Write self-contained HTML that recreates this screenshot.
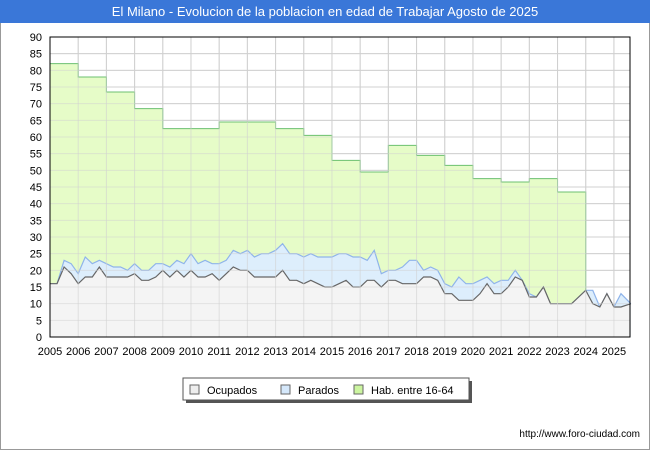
<!DOCTYPE html>
<html><head><meta charset="utf-8"><style>
body{margin:0;width:650px;height:450px;background:#fff;font-family:"Liberation Sans",sans-serif;overflow:hidden}
svg text{font-family:"Liberation Sans",sans-serif}
</style></head><body>
<svg id="c" width="650" height="450">
<rect x="0.5" y="0.5" width="649" height="449" fill="#fff" stroke="#999"/>
<rect x="0" y="0" width="650" height="23" fill="#3a77d8"/>
<text x="325" y="16" text-anchor="middle" fill="#fff" font-size="13">El Milano - Evolucion de la poblacion en edad de Trabajar Agosto de 2025</text>
<g id="grid"></g><g id="series"></g><g id="axes"></g>
<g>
<rect x="186" y="381" width="286" height="22" fill="#555"/>
<rect x="183" y="378" width="286" height="22" fill="#fff" stroke="#555"/>
<rect x="190" y="385" width="9" height="9" fill="#eee" stroke="#666"/>
<text x="207" y="394" font-size="11">Ocupados</text>
<rect x="281" y="385" width="9" height="9" fill="#d5e8fb" stroke="#666"/>
<text x="298" y="394" font-size="11">Parados</text>
<rect x="354" y="385" width="9" height="9" fill="#ccf5a0" stroke="#666"/>
<text x="371" y="394" font-size="11">Hab. entre 16-64</text>
</g>
<text x="640" y="437" text-anchor="end" font-size="10">http://www.foro-ciudad.com</text>
</svg>
<script>
const yTicks=[0,5,10,15,20,25,30,35,40,45,50,55,60,65,70,75,80,85,90];
const xYears=[2005,2006,2007,2008,2009,2010,2011,2012,2013,2014,2015,2016,2017,2018,2019,2020,2021,2022,2023,2024,2025];
const habYears=[2005,2006,2007,2008,2009,2010,2011,2012,2013,2014,2015,2016,2017,2018,2019,2020,2021,2022,2023];
const habValues=[82,78,73.5,68.5,62.5,62.5,64.5,64.5,62.5,60.5,53,49.5,57.5,54.5,51.5,47.5,46.5,47.5,43.5];
const tTimes=[2005,2005.25,2005.5,2005.75,2006,2006.25,2006.5,2006.75,2007,2007.25,2007.5,2007.75,2008,2008.25,2008.5,2008.75,2009,2009.25,2009.5,2009.75,2010,2010.25,2010.5,2010.75,2011,2011.25,2011.5,2011.75,2012,2012.25,2012.5,2012.75,2013,2013.25,2013.5,2013.75,2014,2014.25,2014.5,2014.75,2015,2015.25,2015.5,2015.75,2016,2016.25,2016.5,2016.75,2017,2017.25,2017.5,2017.75,2018,2018.25,2018.5,2018.75,2019,2019.25,2019.5,2019.75,2020,2020.25,2020.5,2020.75,2021,2021.25,2021.5,2021.75,2022,2022.25,2022.5,2022.75,2023,2023.5,2024,2024.25,2024.5,2024.75,2025,2025.25,2025.6];
const ocupados=[16,16,21,19,16,18,18,21,18,18,18,18,19,17,17,18,20,18,20,18,20,18,18,19,17,19,21,20,20,18,18,18,18,20,17,17,16,17,16,15,15,16,17,15,15,17,17,15,17,17,16,16,16,18,18,17,13,13,11,11,11,13,16,13,13,15,18,17,12,12,15,10,10,10,14,10,9,13,9,9,10];
const parados=[0,0,2,3,3,6,4,2,4,3,3,2,3,3,3,4,2,3,3,4,5,4,5,3,5,4,5,5,6,6,7,7,8,8,8,8,8,8,8,9,9,9,8,9,9,6,9,4,3,3,5,7,7,2,3,3,3,2,7,5,5,4,2,3,4,2,2,0,1,0,0,0,0,0,0,4,0,0,0,4,0];
const X0=50,X1=630,Y0=337,Y1=37;
const xs=t=>X0+(t-2005)*(X1-X0)/20.57;
const ys=v=>Y0-v*(Y0-Y1)/90;
const NS="http://www.w3.org/2000/svg";
function mk(tag,attrs,parent){const e=document.createElementNS(NS,tag);for(const k in attrs)e.setAttribute(k,attrs[k]);parent.appendChild(e);return e;}
const grid=document.getElementById('grid'),ser=document.getElementById('series'),ax=document.getElementById('axes');
mk('rect',{x:X0,y:Y1,width:X1-X0,height:Y0-Y1,fill:'#fff'},grid);
yTicks.forEach(v=>{
 const l=mk('line',{x1:X0,x2:X1,y1:ys(v),y2:ys(v),stroke:'#d0d0d0'},grid);
 
 
 const t=mk('text',{x:X0-8,y:ys(v)+4,'text-anchor':'end','font-size':11},ax);
 t.textContent=v;
 
 
});
xYears.forEach(y=>{
 const l=mk('line',{x1:xs(y),x2:xs(y),y1:Y1,y2:Y0,stroke:'#d0d0d0'},grid);
 
 
 const t=mk('text',{x:xs(y),y:Y0+18,'text-anchor':'middle','font-size':11},ax);
 t.textContent=y;
 
 
});
// hab step area
let hp='M'+xs(habYears[0])+','+ys(0);
habYears.forEach((y,i)=>{hp+=' L'+xs(y)+','+ys(habValues[i])+' L'+xs(y+1)+','+ys(habValues[i]);});
hp+=' L'+xs(2024)+','+ys(0)+' Z';
const hab=mk('path',{d:hp,fill:'#e6fcc8',stroke:'#6cc070','stroke-width':1},ser);


const totals=ocupados.map((o,i)=>o+parados[i]);
function area(vals){let d='M'+xs(tTimes[0])+','+ys(0);tTimes.forEach((t,i)=>d+=' L'+xs(t)+','+ys(vals[i]));return d+' L'+xs(tTimes[tTimes.length-1])+','+ys(0)+' Z';}
function line(vals){return tTimes.map((t,i)=>(i?'L':'M')+xs(t)+','+ys(vals[i])).join(' ');}
const pa=mk('path',{d:area(totals),fill:'#ddeefc'},ser);


const pl=mk('path',{d:line(totals),fill:'none',stroke:'#8fb4ea','stroke-width':1.2},ser);


const oa=mk('path',{d:area(ocupados),fill:'#f4f4f4'},ser);


const ol=mk('path',{d:line(ocupados),fill:'none',stroke:'#666','stroke-width':1.2},ser);


yTicks.forEach(v=>{mk('line',{x1:X0,x2:X1,y1:ys(v),y2:ys(v),stroke:'#d0d0d0','stroke-opacity':0.5},ser);});
xYears.forEach(y=>{mk('line',{x1:xs(y),x2:xs(y),y1:Y1,y2:Y0,stroke:'#d0d0d0','stroke-opacity':0.6},ser);});
const b=mk('rect',{x:X0,y:Y1,width:X1-X0,height:Y0-Y1,fill:'none',stroke:'#000'},ax);


</script>
</body></html>
